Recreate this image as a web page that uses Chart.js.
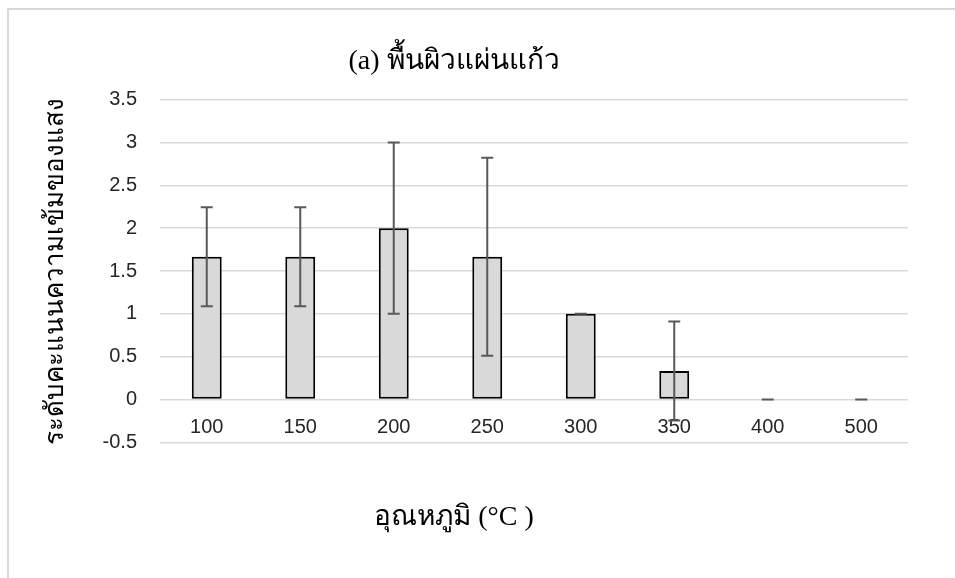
<!DOCTYPE html>
<html>
<head>
<meta charset="utf-8">
<script src="https://cdn.jsdelivr.net/npm/chart.js@4/dist/chart.umd.min.js"></script>
<style>
  body { margin: 0; background: #fff; }
  #wrap { position: relative; width: 955px; height: 578px; overflow: hidden; }
  #frame { position: absolute; left: 7px; top: 8px; width: 1000px; height: 600px;
           border-top: 2px solid #d9d9d9; border-left: 2px solid #d9d9d9; }
  canvas { position: absolute; left: 0; top: 0; }
</style>
</head>
<body>
<div id="wrap">
  <div id="frame"></div>
  <canvas id="chart" width="955" height="578"></canvas>
</div>
<script>
const temps = ['100', '150', '200', '250', '300', '350', '400', '500'];
const scores = [1.667, 1.667, 2, 1.667, 1, 0.333, 0, 0];
const errors = [0.577, 0.577, 1, 1.155, 0, 0.577, 0, 0];

const yMin = -0.5;
const yMax = 3.5;
const yStep = 0.5;

const chartTitle = '(a) พื้นผิวแผ่นแก้ว';
const xTitle = 'อุณหภูมิ (°C )';
const yTitle = 'ระดับคะแนนความเข้มของแสง';

const serif = '"Liberation Serif", "DejaVu Serif", serif';
const sans = '"Liberation Sans", "Open Sans", sans-serif';

// draws the +/- error whiskers on top of each bar
const errorBars = {
    id: 'errorBars',
    afterDatasetsDraw(chart) {
        const ctx = chart.ctx;
        const yScale = chart.scales.y;
        const meta = chart.getDatasetMeta(0);
        ctx.save();
        ctx.strokeStyle = '#595959';
        ctx.lineWidth = 2;
        meta.data.forEach((bar, i) => {
            const v = scores[i];
            const e = errors[i];
            const top = yScale.getPixelForValue(v + e);
            const bottom = yScale.getPixelForValue(v - e);
            const x = bar.x;
            const cap = 6;
            ctx.beginPath();
            ctx.moveTo(x, top);
            ctx.lineTo(x, bottom);
            ctx.moveTo(x - cap, top);
            ctx.lineTo(x + cap, top);
            ctx.moveTo(x - cap, bottom);
            ctx.lineTo(x + cap, bottom);
            ctx.stroke();
        });
        ctx.restore();
    }
};

new Chart(document.getElementById('chart'), {
    type: 'bar',
    data: {
        labels: temps,
        datasets: [{
            data: scores,
            backgroundColor: '#d9d9d9',
            borderColor: '#000000',
            borderWidth: 2,
            borderSkipped: false,
            categoryPercentage: 1,
            barPercentage: 0.32
        }]
    },
    options: {
        responsive: false,
        devicePixelRatio: 1,
        animation: false,
        layout: { padding: { left: 0, right: 47, top: 0, bottom: 0 } },
        plugins: {
            legend: { display: false },
            tooltip: { enabled: false },
            title: {
                display: true,
                text: chartTitle,
                color: '#000',
                font: { family: serif, size: 28, weight: 'normal' },
                padding: { top: 45, bottom: 21 }
            },
            subtitle: {
                display: true,
                position: 'bottom',
                text: xTitle,
                color: '#000',
                font: { family: serif, size: 28, weight: 'normal' },
                padding: { top: 58, bottom: 44 }
            }
        },
        scales: {
            x: {
                position: { y: 0 },
                grid: { display: false, drawTicks: false },
                border: { display: false },
                ticks: {
                    color: '#262626',
                    font: { family: sans, size: 20 },
                    padding: 16
                }
            },
            y: {
                min: yMin,
                max: yMax,
                afterFit(scale) { scale.width = 160; },
                grid: { color: '#d9d9d9', lineWidth: 1.5, drawTicks: false },
                border: { display: false },
                ticks: {
                    stepSize: yStep,
                    color: '#262626',
                    font: { family: sans, size: 20 },
                    padding: 23,
                    callback: value => String(Number(value.toFixed(1)))
                },
                title: {
                    display: true,
                    text: yTitle,
                    color: '#000',
                    font: { family: serif, size: 26, weight: 'normal' },
                    padding: { top: 41, bottom: 0 }
                }
            }
        }
    },
    plugins: [errorBars]
});
</script>
</body>
</html>
